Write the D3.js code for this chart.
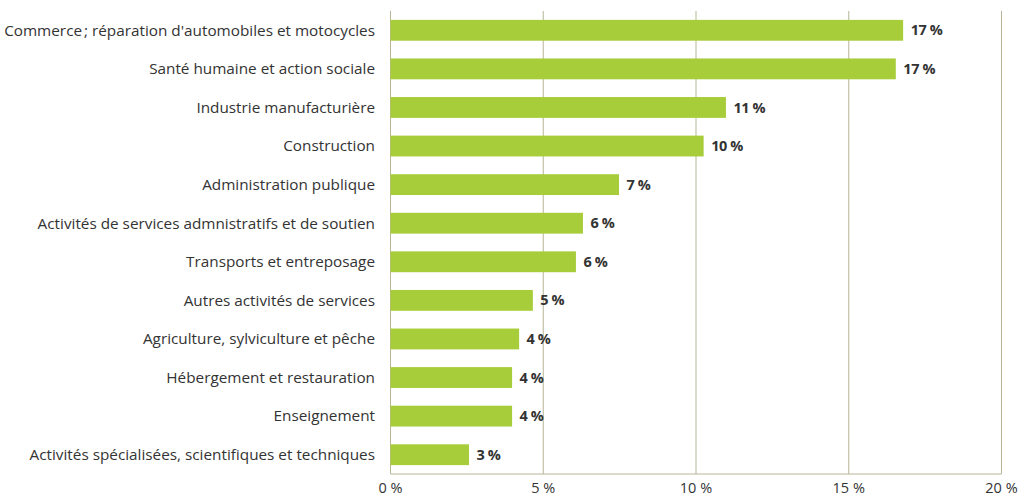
<!DOCTYPE html>
<html><head><meta charset="utf-8">
<script src="https://cdn.jsdelivr.net/npm/d3@7"></script>
<style>
body{margin:0;background:#fff;}
text{font-family:"Open Sans",sans-serif;}
</style></head>
<body><svg id="c" width="1022" height="496"></svg>
<script>
const categories = [
  "Commerce\u202F; réparation d'automobiles et motocycles",
  "Santé humaine et action sociale",
  "Industrie manufacturière",
  "Construction",
  "Administration publique",
  "Activités de services admnistratifs et de soutien",
  "Transports et entreposage",
  "Autres activités de services",
  "Agriculture, sylviculture et pêche ",
  "Hébergement et restauration",
  "Enseignement",
  "Activités spécialisées, scientifiques et techniques"
];
const values = [16.78, 16.54, 10.98, 10.25, 7.48, 6.30, 6.07, 4.66, 4.21, 3.98, 3.98, 2.57];
const valueLabels = ["17 %","17 %","11 %","10 %","7 %","6 %","6 %","5 %","4 %","4 %","4 %","3 %"];
const ticks = [0, 5, 10, 15, 20];
const tickLabels = ["0 %","5 %","10 %","15 %","20 %"];

const svg = d3.select("#c");
const mLeft = 390.5, mRight = 1001.5, mTop = 11, mBottom = 474;
const x = d3.scaleLinear().domain([0, 20]).range([mLeft, mRight]);
const y = d3.scaleBand().domain(categories).range([mTop, mBottom]).paddingInner(0.46).paddingOuter(0.23);
const gridCol = "#b9b597";

svg.append("g").selectAll("line").data(ticks).join("line")
  .attr("x1", d => x(d)).attr("x2", d => x(d))
  .attr("y1", mTop).attr("y2", mBottom)
  .attr("stroke", gridCol).attr("stroke-width", 1);

svg.append("line").attr("x1", mLeft).attr("x2", mRight).attr("y1", mBottom).attr("y2", mBottom)
  .attr("stroke", gridCol).attr("stroke-width", 1);

svg.append("g").selectAll("rect").data(values).join("rect")
  .attr("x", x(0))
  .attr("y", (d, i) => y(categories[i]))
  .attr("width", d => x(d) - x(0))
  .attr("height", y.bandwidth())
  .attr("fill", "#a8cd3a");

svg.append("g").selectAll("text").data(values).join("text")
  .attr("x", d => x(d) + 7.5)
  .attr("y", (d, i) => y(categories[i]) + y.bandwidth() / 2)
  .attr("dy", "0.35em")
  .attr("font-size", 14.5).attr("font-weight", 700).attr("fill", "#333")
  .attr("letter-spacing", "-0.4px")
  .text((d, i) => valueLabels[i]);

svg.append("g").selectAll("text").data(categories).join("text")
  .attr("x", 375)
  .attr("y", d => y(d) + y.bandwidth() / 2)
  .attr("dy", "0.35em")
  .attr("text-anchor", "end")
  .attr("font-size", 15.3).attr("fill", "#333")
  .text(d => d);

svg.append("g").selectAll("text").data(ticks).join("text")
  .attr("x", d => x(d))
  .attr("y", 488)
  .attr("dy", "0.35em")
  .attr("text-anchor", "middle")
  .attr("font-size", 14.5).attr("fill", "#333")
  .text((d, i) => tickLabels[i]);
</script></body></html>
